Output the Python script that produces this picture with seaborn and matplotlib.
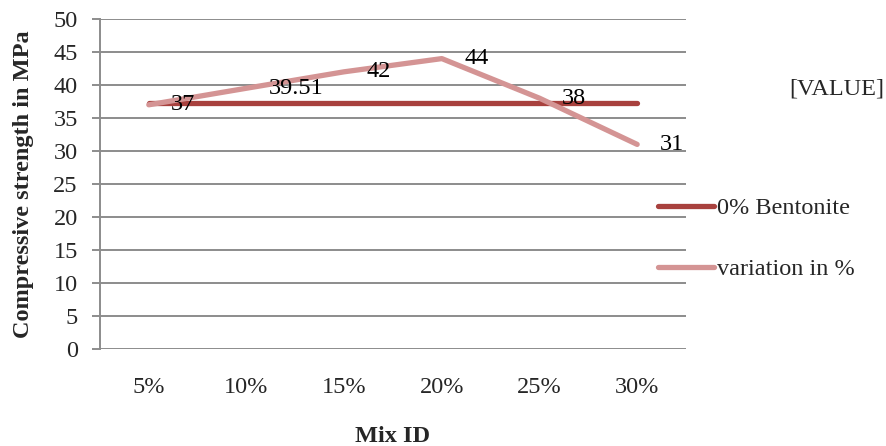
import matplotlib
matplotlib.use("Agg")
import matplotlib.pyplot as plt
import seaborn as sns
import pandas as pd

# Chart data
mix_ids = ["5%", "10%", "15%", "20%", "25%", "30%"]
bentonite_0 = [37.2, 37.2, 37.2, 37.2, 37.2, 37.2]
variation = [37, 39.51, 42, 44, 38, 31]
series_names = ["0% Bentonite", "variation in %"]
y_ticks = [0, 5, 10, 15, 20, 25, 30, 35, 40, 45, 50]

FS = 17.5

sns.set_style("white")
plt.rcParams["font.family"] = ["Liberation Serif", "DejaVu Serif"]
plt.rcParams["font.size"] = FS

df = pd.DataFrame({
    "Mix ID": mix_ids * 2,
    "value": bentonite_0 + variation,
    "series": [series_names[0]] * len(mix_ids) + [series_names[1]] * len(mix_ids),
})

fig = plt.figure(figsize=(8.87, 4.46), dpi=100)
ax = fig.add_axes([0.1127, 0.2175, 0.6607, 0.7399])

palette = {series_names[0]: "#A8413E", series_names[1]: "#D49494"}
sns.lineplot(data=df, x="Mix ID", y="value", hue="series", palette=palette,
             linewidth=3.8, ax=ax, sort=False, legend=True,
             solid_capstyle="round")
# draw the variation line above the constant line
ax.lines[1].set_zorder(4)
ax.lines[0].set_zorder(3)

# value labels to the right of each point
for i, v in enumerate(variation):
    ax.annotate(f"{v:g}", xy=(i, v), xytext=(16, 0), textcoords="offset points",
                ha="left", va="center", fontsize=FS, color="black", zorder=5)

ax.set_xlim(-0.5, 5.5)
ax.set_ylim(0, 50)
ax.set_yticks(y_ticks)
ax.yaxis.grid(True, color="#8C8C8C", linewidth=1.4)
ax.xaxis.grid(False)
for side in ["top", "right", "bottom"]:
    ax.spines[side].set_visible(False)
ax.spines["left"].set_color("#8C8C8C")
ax.spines["left"].set_linewidth(1.4)

ax.tick_params(axis="y", which="major", left=True, length=6, width=1.4,
               color="#8C8C8C", pad=10, labelsize=FS)
ax.tick_params(axis="x", length=0, pad=20, labelsize=FS)

ax.set_xlabel("Mix ID", fontweight="bold", fontsize=FS, labelpad=20)
ax.set_ylabel("Compressive strength in MPa", fontweight="bold", fontsize=FS, labelpad=14)

handles, labels = ax.get_legend_handles_labels()
ax.get_legend().remove()
fig.legend(handles, labels, loc="center left", bbox_to_anchor=(0.742, 0.465),
           frameon=False, borderpad=0, borderaxespad=0, handlelength=2.3,
           handletextpad=0.12, labelspacing=1.6, fontsize=FS)

fig.text(837 / 887, 1 - 89 / 446, "[VALUE]", ha="center", va="center", fontsize=FS)

fig.savefig("out.png", dpi=100)
